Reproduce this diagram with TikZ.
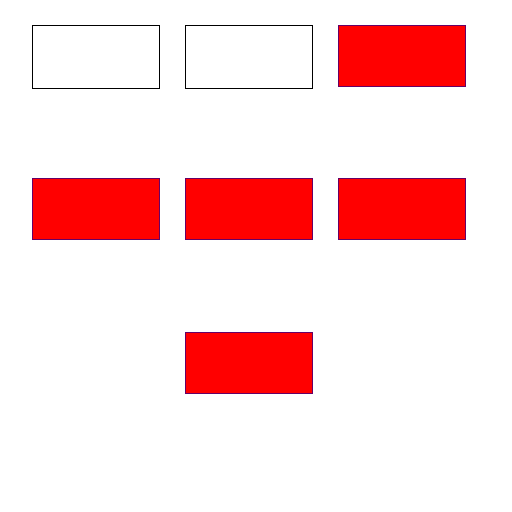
\documentclass[tikz,border=0pt]{standalone}
\usepackage{tikz}
\usetikzlibrary{positioning}

\begin{document}
\begin{tikzpicture}[
    plainbox/.style={rectangle, draw=black, fill=white, minimum width=2.54cm, minimum height=1.26cm},
    redbox/.style={rectangle, draw=blue!50!red!80!black, fill=red, minimum width=2.54cm, minimum height=1.22cm}]
    \useasboundingbox (0,0) rectangle (10.24,-10.24);
    % top row
    \node[plainbox, anchor=north west] (topleft) at (0.646,-0.506) {};
    \node[plainbox, right=0.5cm of topleft] (topmid) {};
    \node[redbox, right=0.5cm of topmid.north east, anchor=north west] (topright) {};
    % middle row
    \node[redbox, below=1.77cm of topleft] (midleft) {};
    \node[redbox, right=0.5cm of midleft] (midmid) {};
    \node[redbox, right=0.5cm of midmid] (midright) {};
    % bottom row
    \node[redbox, below=1.85cm of midmid] (botmid) {};
\end{tikzpicture}
\end{document}
